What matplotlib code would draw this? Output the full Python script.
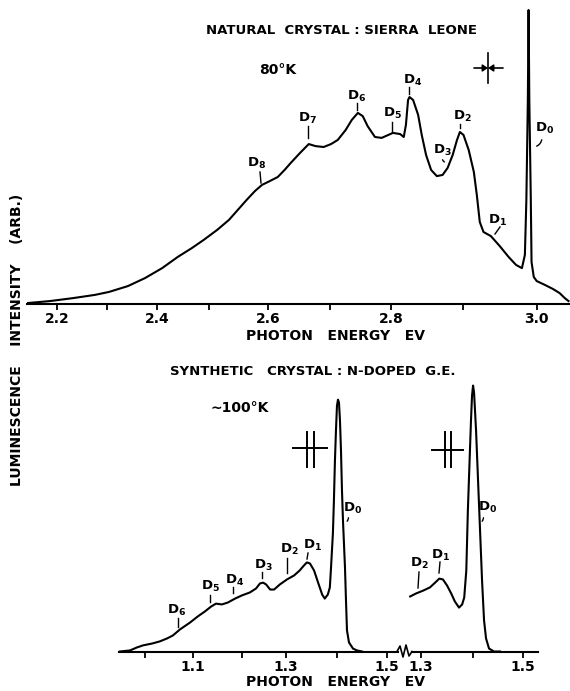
import matplotlib
matplotlib.use("Agg")
import matplotlib.pyplot as plt
import numpy as np
from matplotlib.lines import Line2D
from matplotlib.patches import FancyArrowPatch

W, H = 570, 691

# natural crystal, Sierra Leone, 80 K  (intensity in arbitrary units, D0 = 100)
top_energy = [2.140, 2.186, 2.232, 2.276, 2.304, 2.342, 2.376, 2.410, 2.440, 2.467,
              2.490, 2.514, 2.534, 2.549, 2.564, 2.578, 2.590, 2.603, 2.616, 2.627,
              2.637, 2.652, 2.666, 2.677, 2.690, 2.702, 2.713, 2.726, 2.736, 2.746,
              2.754, 2.762, 2.774, 2.785, 2.803, 2.813, 2.818, 2.821, 2.824, 2.826,
              2.831, 2.838, 2.843, 2.849, 2.856, 2.864, 2.872, 2.879, 2.886, 2.892,
              2.896, 2.901, 2.908, 2.915, 2.919, 2.923, 2.928, 2.938, 2.950, 2.962,
              2.972, 2.980, 2.984, 2.986, 2.988, 2.989, 2.990, 2.992, 2.993, 2.996,
              3.000, 3.011, 3.022, 3.031, 3.038, 3.043]
top_intensity = [0.3, 1.0, 2.0, 3.1, 4.1, 6.1, 8.8, 12.2, 16.0, 19.0,
                 21.8, 25.2, 28.6, 32.0, 35.4, 38.4, 40.5, 41.8, 43.2, 45.6,
                 48.0, 51.4, 54.4, 53.7, 53.4, 54.4, 55.8, 59.2, 62.6, 65.0,
                 63.9, 60.5, 56.8, 56.5, 58.2, 57.8, 56.8, 60.9, 69.4, 70.4,
                 69.4, 64.3, 57.5, 50.7, 45.6, 43.5, 43.9, 46.3, 50.7, 55.8,
                 58.5, 57.5, 52.4, 44.9, 37.1, 27.9, 24.5, 23.1, 19.7, 16.0,
                 13.3, 12.2, 16.7, 35.4, 69.4, 100.0, 69.4, 35.4, 14.3, 9.2,
                 7.8, 6.5, 5.1, 3.7, 2.0, 1.0]

# synthetic crystal, N-doped G.E., ~100 K : wide scan and expanded scan
low_energy = [0.948, 0.969, 0.983, 0.996, 1.015, 1.031, 1.046, 1.058, 1.073, 1.094,
              1.110, 1.124, 1.137, 1.147, 1.159, 1.171, 1.186, 1.200, 1.218, 1.232,
              1.241, 1.248, 1.255, 1.264, 1.273, 1.286, 1.302, 1.316, 1.327, 1.335,
              1.341, 1.347, 1.355, 1.363, 1.371, 1.376, 1.382, 1.386, 1.388, 1.392,
              1.394, 1.396, 1.398, 1.400, 1.402, 1.404, 1.406, 1.408, 1.410, 1.412,
              1.416, 1.418, 1.420, 1.424, 1.432, 1.440, 1.450]
low_intensity = [0.0, 0.4, 1.5, 2.3, 3.0, 3.8, 4.9, 6.0, 8.3, 10.9,
                 13.2, 15.0, 16.9, 18.0, 17.7, 18.4, 19.9, 21.1, 22.2, 23.7,
                 25.6, 25.9, 25.2, 23.3, 23.3, 25.2, 27.1, 28.6, 30.5, 32.3,
                 33.5, 33.1, 30.5, 25.9, 21.4, 19.9, 21.4, 24.1, 30.5, 44.4,
                 56.8, 71.8, 83.1, 92.5, 94.7, 93.6, 86.8, 75.6, 60.5, 49.2,
                 31.6, 19.2, 7.9, 3.4, 1.1, 0.4, 0.0]
high_energy = [1.279, 1.290, 1.304, 1.317, 1.327, 1.335, 1.342, 1.350, 1.358, 1.365,
               1.373, 1.379, 1.383, 1.387, 1.390, 1.392, 1.394, 1.396, 1.398, 1.400,
               1.402, 1.406, 1.410, 1.414, 1.418, 1.422, 1.426, 1.432, 1.442, 1.454]
high_intensity = [20.7, 21.8, 22.9, 24.1, 25.9, 27.4, 27.1, 24.8, 21.8, 18.8,
                  16.5, 17.7, 20.3, 30.5, 53.0, 64.3, 75.6, 86.8, 96.2, 100.0,
                  97.4, 83.1, 64.3, 45.5, 26.7, 11.7, 4.9, 1.1, 0.0, 0.0]

# ticks
top_ticks = [2.2, 2.3, 2.4, 2.5, 2.6, 2.7, 2.8, 2.9, 3.0]
top_tick_labels = ["2.2", "", "2.4", "", "2.6", "", "2.8", "", "3.0"]
low_ticks = [1.0, 1.1, 1.2, 1.3, 1.4, 1.5]
low_tick_labels = ["", "1.1", "", "1.3", "", "1.5"]
high_ticks = [1.3, 1.4, 1.5]
high_tick_labels = ["1.3", "", "1.5"]

# the energy scales of the original are hand drawn and not linear:
# energy -> position along the axis (px)
top_scale_e = [2.0, 2.2, 2.3, 2.4, 2.5, 2.6, 2.7, 2.8, 2.9, 3.0, 3.2]
top_scale_px = [-43, 57, 107, 157, 209, 268, 330, 391, 463, 537, 685]
low_scale_e = [0.8, 1.0, 1.1, 1.2, 1.3, 1.4, 1.5, 1.7]
low_scale_px = [49, 145, 193, 242, 286, 337, 387, 487]
high_scale_e = [1.1, 1.3, 1.4, 1.5, 1.7]
high_scale_px = [317, 421, 473, 523, 623]

plt.rcParams["font.weight"] = "bold"
plt.rcParams["mathtext.default"] = "regular"


def make_scale(es, pxs):
    es = np.asarray(es, float)
    pxs = np.asarray(pxs, float)
    return (lambda e: np.interp(e, es, pxs)), (lambda p: np.interp(p, pxs, es))


def style_axis(ax, ticks, labels):
    ax.set_facecolor("none")
    for s in ("top", "left", "right"):
        ax.spines[s].set_visible(False)
    ax.spines["bottom"].set_linewidth(1.5)
    ax.set_yticks([])
    ax.set_xticks(ticks)
    ax.set_xticklabels(labels, fontweight="bold")
    ax.minorticks_off()
    ax.tick_params(axis="x", direction="out", length=4, width=1.3,
                   labelsize=10, pad=2)


fig = plt.figure(figsize=(W / 100, H / 100), dpi=100)


def fig_box(x0, x1, y_bottom, y_top):
    return [x0 / W, 1 - y_bottom / H, (x1 - x0) / W, (y_bottom - y_top) / H]


def fig_line(xs, ys, lw=1.2):
    fig.add_artist(Line2D([x / W for x in xs], [1 - y / H for y in ys],
                          color="black", lw=lw, transform=fig.transFigure))


def fig_curve(p0, p1, rad, lw=1.0):
    fig.add_artist(FancyArrowPatch((p0[0] / W, 1 - p0[1] / H), (p1[0] / W, 1 - p1[1] / H),
                                   transform=fig.transFigure, arrowstyle="-",
                                   connectionstyle=f"arc3,rad={rad}", lw=lw, color="black"))


def fig_text(x, y, s, size=10, **kw):
    fig.text(x / W, 1 - y / H, s, ha="center", va="center", fontsize=size,
             fontweight="bold", **kw)


# ---- top panel
ax_top = fig.add_axes(fig_box(27, 570, 304, 0))
ax_top.set_xscale("function", functions=make_scale(top_scale_e, top_scale_px))
ax_top.plot(top_energy, top_intensity, color="black", lw=1.5)
ax_top.set_xlim(2.140, 3.045)
ax_top.set_ylim(0, 103.4)
style_axis(ax_top, top_ticks, top_tick_labels)

# ---- bottom panels
ax_low = fig.add_axes(fig_box(119, 398, 651.5, 380))
ax_low.set_xscale("function", functions=make_scale(low_scale_e, low_scale_px))
ax_low.plot(low_energy, low_intensity, color="black", lw=1.5)
ax_low.set_xlim(0.946, 1.522)
ax_low.set_ylim(0, 102.1)
style_axis(ax_low, low_ticks, low_tick_labels)

ax_high = fig.add_axes(fig_box(405, 538, 651.5, 380))
ax_high.set_xscale("function", functions=make_scale(high_scale_e, high_scale_px))
ax_high.plot(high_energy, high_intensity, color="black", lw=1.5)
ax_high.set_xlim(1.269, 1.530)
ax_high.set_ylim(0, 102.1)
style_axis(ax_high, high_ticks, high_tick_labels)
ax_high.spines["bottom"].set_bounds(1.283, 1.530)

# axis break
fig_line([397, 400, 403, 406, 409, 412], [651.5, 646, 657, 645, 656, 651.5], lw=1.2)

# ---- texts
fig_text(342, 30, "NATURAL  CRYSTAL : SIERRA  LEONE", size=9.5)
fig_text(278, 70, "80°K")
fig_text(336, 336, "PHOTON   ENERGY   EV")
fig_text(313, 372, "SYNTHETIC   CRYSTAL : N-DOPED  G.E.", size=9.5)
fig_text(240, 408, "∼100°K")
fig_text(336, 682, "PHOTON   ENERGY   EV")
fig_text(17, 340, "LUMINESCENCE    INTENSITY    (ARB.)", rotation=90)

# resolution markers
fig_line([488, 488], [53, 83])
fig.add_artist(FancyArrowPatch((474 / W, 1 - 68 / H), (488 / W, 1 - 68 / H),
                               transform=fig.transFigure, arrowstyle="-|>,head_length=3,head_width=2",
                               lw=1.2, color="black", shrinkA=0, shrinkB=0))
fig.add_artist(FancyArrowPatch((503 / W, 1 - 68 / H), (488 / W, 1 - 68 / H),
                               transform=fig.transFigure, arrowstyle="-|>,head_length=3,head_width=2",
                               lw=1.2, color="black", shrinkA=0, shrinkB=0))
for xa, xb, xc, xd, yh in [(293, 307, 314, 327, 448), (432, 445, 451, 463, 450)]:
    fig_line([xa, xd], [yh, yh], lw=1.4)
    fig_line([xb, xb], [432, 467], lw=1.4)
    fig_line([xc, xc], [432, 467], lw=1.4)

# peak labels: name, label centre, leader
top_marks = [("8", (257, 163), (260, 172), (261, 183)),
             ("7", (307, 118), (308, 126), (308, 138)),
             ("6", (357, 96), (357, 103), (357, 110)),
             ("5", (392, 113), (392, 122), (392, 132)),
             ("4", (413, 80), (409, 87), (409, 94)),
             ("2", (462, 116), (460, 124), (460, 128)),
             ("1", (497, 220), (500, 227), (495, 234))]
low_marks = [("6", (177, 610), (178, 618), (178, 627)),
             ("5", (210, 586), (210, 595), (210, 602)),
             ("4", (235, 580), (233, 587), (233, 593)),
             ("3", (263, 565), (262, 572), (262, 578)),
             ("2", (289, 549), (287, 558), (287, 573)),
             ("1", (312, 545), (308, 553), (307, 559)),
             ("2", (419, 563), (419, 572), (418, 588)),
             ("1", (440, 555), (440, 562), (439, 573))]
for n, (tx, ty), p0, p1 in top_marks + low_marks:
    fig_text(tx, ty, "D$_{%s}$" % n, size=9.5)
    fig_line([p0[0], p1[0]], [p0[1], p1[1]], lw=1.0)

fig_text(442, 150, "D$_{3}$", size=9.5)
fig_curve((442, 157), (447, 163), 0.4)
for (tx, ty), p0, p1 in [((545, 128), (542, 137), (534, 147)),
                         ((353, 508), (348, 515), (345, 523)),
                         ((488, 507), (483, 515), (480, 523))]:
    fig_text(tx, ty, "D$_{0}$", size=9.5)
    fig_curve(p0, p1, -0.4)

fig.savefig("out.png", dpi=100)
